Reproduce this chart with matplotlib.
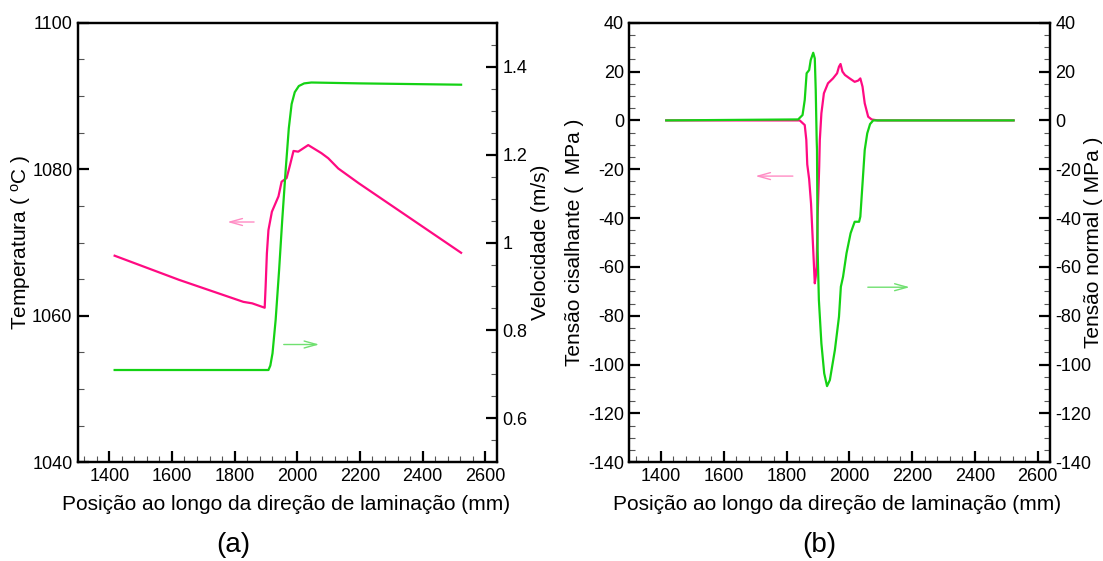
import matplotlib
matplotlib.use('Agg')
import matplotlib.pyplot as plt
from matplotlib.ticker import MultipleLocator, FixedLocator, FormatStrFormatter

# (a) temperatura e velocidade
temp_x = [1417, 1623, 1828, 1856, 1896, 1899, 1903, 1908, 1919, 1940, 1950, 1966, 1977,
          1988, 2003, 2035, 2077, 2099, 2131, 2196, 2523]
temp_y = [1068.2, 1064.9, 1061.9, 1061.7, 1061.1, 1064.0, 1068.5, 1071.7, 1074.2, 1076.3,
          1078.3, 1078.8, 1080.6, 1082.5, 1082.4, 1083.3, 1082.2, 1081.5, 1080.1, 1078.1, 1068.6]

vel_x = [1417, 1908, 1914, 1921, 1931, 1942, 1952, 1963, 1973, 1982, 1992, 2005, 2022,
         2045, 2200, 2523]
vel_y = [0.710, 0.710, 0.720, 0.748, 0.824, 0.937, 1.051, 1.165, 1.260, 1.315, 1.342,
         1.356, 1.362, 1.364, 1.362, 1.359]

# (b) tensões
shear_x = [1417, 1842, 1858, 1863, 1866, 1872, 1878, 1885, 1890, 1893, 1896, 1899, 1904,
           1906, 1911, 1919, 1932, 1948, 1961, 1967, 1972, 1978, 1986, 2001, 2017, 2028,
           2035, 2042, 2049, 2060, 2071, 2090, 2523]
shear_y = [0, 0, -1.9, -8, -18, -24, -34, -53, -66.7, -64, -59.9, -39.4, -19, -8, 2.9,
           11.1, 15.2, 17.2, 19.3, 22, 23.1, 20, 18.6, 17.2, 15.8, 16.3, 17.2, 13.8, 7,
           1.5, 0.4, 0, 0]

normal_x = [1417, 1837, 1851, 1858, 1864, 1872, 1877, 1885, 1890, 1893, 1896, 1897, 1899,
            1903, 1911, 1920, 1929, 1938, 1954, 1967, 1973, 1980, 1991, 2004, 2017, 2031,
            2035, 2042, 2049, 2057, 2066, 2076, 2523]
normal_y = [0, 0.4, 2.2, 8.4, 19.3, 20.6, 24.7, 27.7, 25.4, 12.4, -8, -12, -53, -73.5,
            -91.3, -103.6, -108.8, -106.3, -94, -80.4, -68.1, -64, -54.4, -46.2, -41.5,
            -41.5, -39.4, -25.8, -12.1, -5.3, -1.5, 0, 0]

pink = '#ff0a82'
green = '#14d214'
xlabel = 'Posição ao longo da direção de laminação (mm)'

plt.rcParams['font.family'] = ['Liberation Sans', 'DejaVu Sans']
plt.rcParams['mathtext.default'] = 'regular'
plt.rcParams['axes.unicode_minus'] = False
plt.rcParams['axes.linewidth'] = 1.6

fig = plt.figure(figsize=(11.03, 5.61), dpi=100)
ax1 = fig.add_axes([0.0707, 0.1759, 0.3800, 0.7836])
ax3 = fig.add_axes([0.5707, 0.1759, 0.3810, 0.7836])


def style(ax, right=False):
    ax.tick_params(which='both', direction='in', top=False, labelsize=13, pad=4,
                   left=not right, right=right, labelleft=not right, labelright=right)
    ax.tick_params(which='major', length=8, width=1.6)
    ax.tick_params(which='minor', length=4, width=0.8, color='#555555')


arrow_style = '->,head_length=0.9,head_width=0.25'

# ---- (a)
ax1.plot(temp_x, temp_y, color=pink, lw=1.6)
ax1.set_xlim(1300, 2638)
ax1.set_ylim(1040, 1100)
ax1.xaxis.set_major_locator(MultipleLocator(200))
ax1.xaxis.set_minor_locator(MultipleLocator(40))
ax1.yaxis.set_major_locator(MultipleLocator(20))
ax1.yaxis.set_minor_locator(MultipleLocator(5))
style(ax1)
ax1.set_ylabel('Temperatura ( $^{o}$C )', fontsize=15, va='center')
ax1.yaxis.set_label_coords(-0.136, 0.5)
ax1.set_xlabel(xlabel, fontsize=15, va='center')
ax1.xaxis.set_label_coords(0.496, -0.097)

ax2 = ax1.twinx()
ax2.plot(vel_x, vel_y, color=green, lw=1.6)
ax2.set_ylim(0.5, 1.5)
ax2.yaxis.set_major_locator(FixedLocator([0.6, 0.8, 1.0, 1.2, 1.4]))
ax2.yaxis.set_minor_locator(MultipleLocator(0.05))
ax2.yaxis.set_major_formatter(FormatStrFormatter('%g'))
style(ax2, right=True)
ax2.set_ylabel('Velocidade (m/s)', fontsize=15, va='center')
ax2.yaxis.set_label_coords(1.1026, 0.5)

ax1.annotate('', xy=(1768, 1072.8), xytext=(1871, 1072.8),
             arrowprops=dict(arrowstyle=arrow_style, color='#ff8cc4', lw=1))
ax2.annotate('', xy=(2079, 0.768), xytext=(1948, 0.768),
             arrowprops=dict(arrowstyle=arrow_style, color='#70e070', lw=1))

# ---- (b)
ax3.plot(shear_x, shear_y, color=pink, lw=1.6)
ax3.set_xlim(1300, 2638)
ax3.set_ylim(-140, 40)
ax3.xaxis.set_major_locator(MultipleLocator(200))
ax3.xaxis.set_minor_locator(MultipleLocator(40))
ax3.yaxis.set_major_locator(MultipleLocator(20))
ax3.yaxis.set_minor_locator(MultipleLocator(5))
style(ax3)
ax3.set_ylabel('Tensão cisalhante (  MPa )', fontsize=15, va='center')
ax3.yaxis.set_label_coords(-0.132, 0.5)
ax3.set_xlabel(xlabel, fontsize=15, va='center')
ax3.xaxis.set_label_coords(0.494, -0.097)

ax4 = ax3.twinx()
ax4.plot(normal_x, normal_y, color=green, lw=1.6)
ax4.set_ylim(-140, 40)
ax4.yaxis.set_major_locator(MultipleLocator(20))
ax4.yaxis.set_minor_locator(MultipleLocator(5))
style(ax4, right=True)
ax4.set_ylabel('Tensão normal ( MPa )', fontsize=15, va='center')
ax4.yaxis.set_label_coords(1.104, 0.5)

ax3.annotate('', xy=(1692, -22.8), xytext=(1829, -22.8),
             arrowprops=dict(arrowstyle=arrow_style, color='#ff8cc4', lw=1))
ax4.annotate('', xy=(2201, -68.3), xytext=(2050, -68.3),
             arrowprops=dict(arrowstyle=arrow_style, color='#70e070', lw=1))

fig.text(0.2112, 0.0285, '(a)', fontsize=20, ha='center', va='center')
fig.text(0.7425, 0.0285, '(b)', fontsize=20, ha='center', va='center')

fig.savefig('out.png', dpi=100)
